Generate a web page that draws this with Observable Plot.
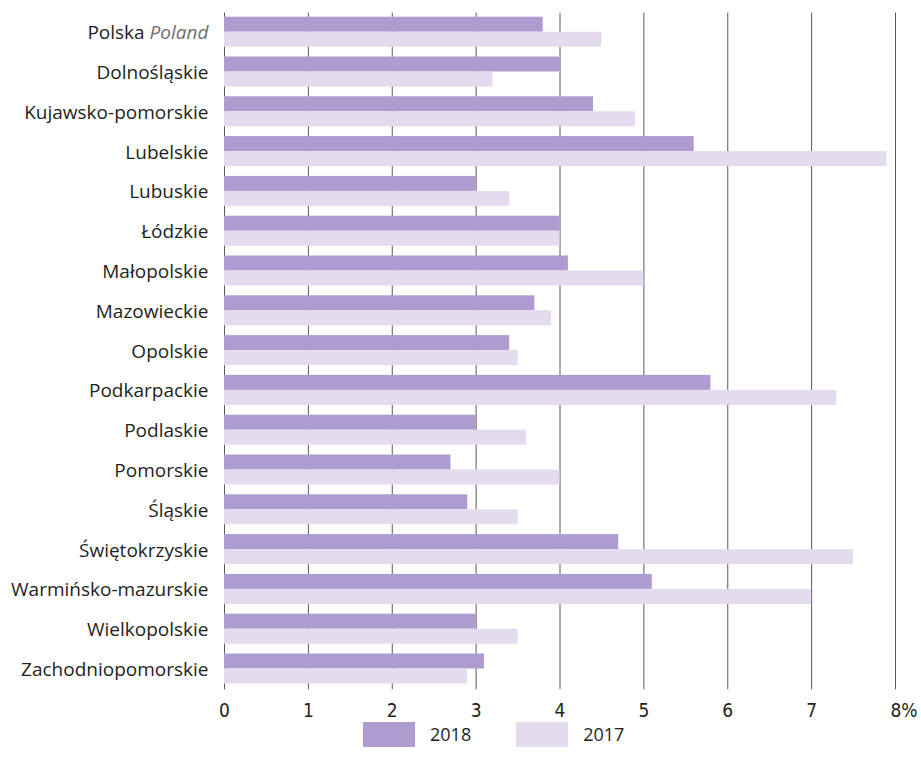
<!DOCTYPE html>
<html>
<head>
<meta charset="utf-8">
<script src="https://cdn.jsdelivr.net/npm/d3@7"></script>
<script src="https://cdn.jsdelivr.net/npm/@observablehq/plot@0.6"></script>
<style>
  body { margin: 0; background: #fff; font-family: "Open Sans", sans-serif; color: #231f20; }
  #legend { display: flex; align-items: center; height: 26px; font-size: 18px; }
  .sw { width: 52px; height: 25px; }
</style>
</head>
<body>
<div id="chart"></div>
<div id="legend">
  <div class="sw" style="margin-left:363px;background:#ae9bcf"></div>
  <span style="margin-left:15px">2018</span>
  <div class="sw" style="margin-left:45px;background:#e4dcee"></div>
  <span style="margin-left:15px">2017</span>
</div>
<script>
const regions = ["Polska Poland","Dolnośląskie","Kujawsko-pomorskie","Lubelskie","Lubuskie","Łódzkie","Małopolskie","Mazowieckie","Opolskie","Podkarpackie","Podlaskie","Pomorskie","Śląskie","Świętokrzyskie","Warmińsko-mazurskie","Wielkopolskie","Zachodniopomorskie"];
const v2018 = [3.8,4.0,4.4,5.6,3.0,4.0,4.1,3.7,3.4,5.8,3.0,2.7,2.9,4.7,5.1,3.0,3.1];
const v2017 = [4.5,3.2,4.9,7.9,3.4,4.0,5.0,3.9,3.5,7.3,3.6,4.0,3.5,7.5,7.0,3.5,2.9];
const xTicks = [0,1,2,3,4,5,6,7,8];

const d18 = regions.map((r,i)=>({region:r, value:v2018[i]}));
const d17 = regions.map((r,i)=>({region:r, value:v2017[i]}));

const band = (689.3 - 12.7) / regions.length;
const tickFont = "'Liberation Sans Narrow', 'DejaVu Sans Condensed', 'Open Sans', sans-serif";

const chart = Plot.plot({
  width: 921,
  height: 721,
  marginTop: 12.7,
  marginBottom: 31.7,
  marginLeft: 224,
  marginRight: 26,
  style: { fontFamily: "Open Sans, sans-serif", fontSize: "19px", color: "#231f20" },
  x: { domain: [0, 8], axis: null },
  y: { domain: regions, padding: 0, round: false, axis: null },
  marks: [
    Plot.ruleX(xTicks, { x: d => d, stroke: "#5a5a5a", strokeWidth: 1 }),
    Plot.barX(d18, { x: "value", y: "region", fill: "#ae9bcf", insetTop: 4, insetBottom: band - 19 }),
    Plot.barX(d17, { x: "value", y: "region", fill: "#e4dcee", insetTop: 19, insetBottom: band - 34 }),
    Plot.axisY({ tickSize: 0, tickPadding: 16, fontSize: 19, fill: "#231f20", label: null }),
    Plot.text(xTicks.filter(d => d < 8), { x: d => d, frameAnchor: "bottom", dy: 27, text: d => String(d), fontSize: 19, fontFamily: tickFont, fill: "#231f20" }),
    Plot.text(xTicks.filter(d => d === 8), { x: d => d, frameAnchor: "bottom", dy: 27, text: d => d + "%", textAnchor: "start", dx: -5, fontSize: 19, fontFamily: tickFont, fill: "#231f20" })
  ]
});
document.getElementById("chart").appendChild(chart);

// italic grey English name for the first label
d3.select(chart).selectAll("text").each(function() {
  if (this.textContent === "Polska Poland") {
    const t = d3.select(this);
    t.text("");
    t.append("tspan").text("Polska ");
    t.append("tspan").attr("font-style", "italic").attr("fill", "#6d6e71").text("Poland");
  }
});
</script>
</body>
</html>
